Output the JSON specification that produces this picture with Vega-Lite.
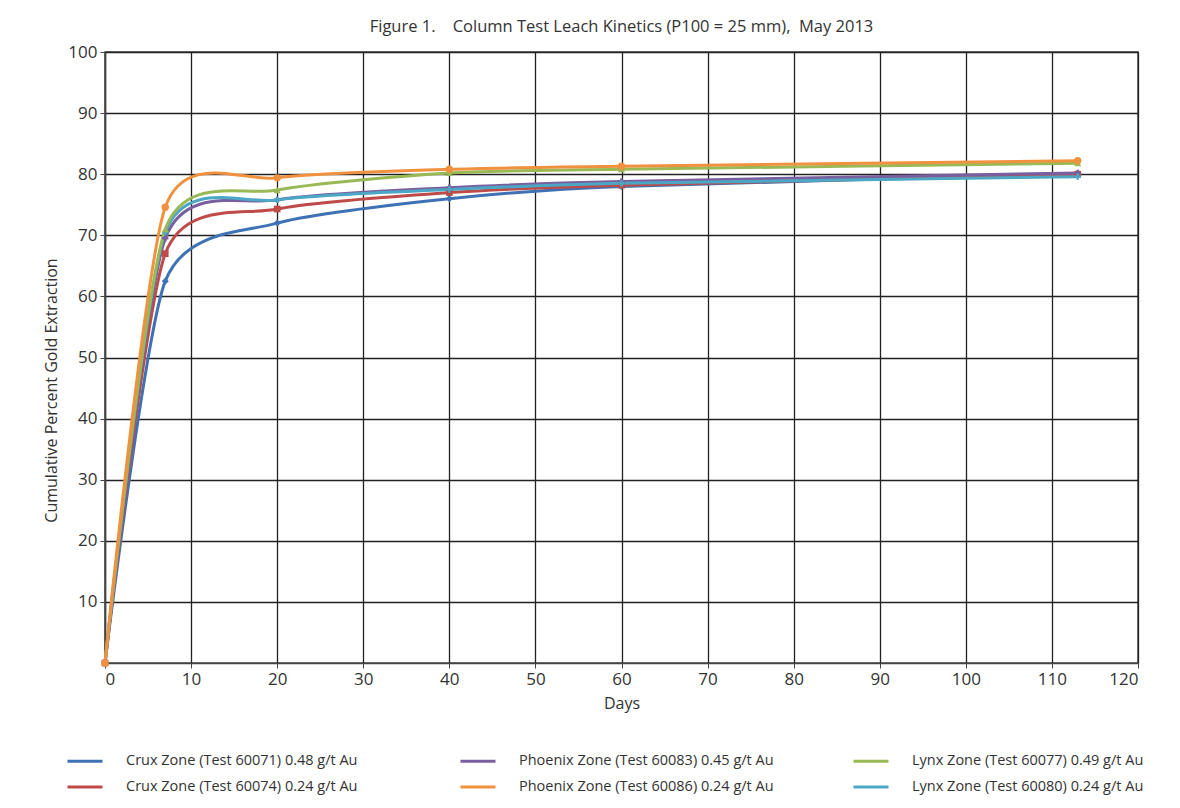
{
  "$schema": "https://vega.github.io/schema/vega-lite/v6.json",
  "autosize": "none",
  "width": 1033,
  "height": 611,
  "padding": {"left": 105, "top": 52, "right": 42, "bottom": 145},
  "background": "white",
  "title": {
    "text": "Figure 1.\u00a0\u00a0\u00a0\u00a0Column Test Leach Kinetics (P100 = 25 mm),\u00a0\u00a0May 2013",
    "anchor": "middle",
    "font": "Open Sans",
    "fontSize": 16.5,
    "fontWeight": "normal",
    "color": "#333333",
    "offset": 8
  },
  "config": {
    "view": {"stroke": "#444444", "strokeWidth": 1.5},
    "axis": {
      "labelFont": "Open Sans",
      "titleFont": "Open Sans",
      "labelFontSize": 17,
      "titleFontSize": 16,
      "titleFontWeight": "normal",
      "labelColor": "#333333",
      "titleColor": "#333333",
      "gridColor": "#222222",
      "gridWidth": 1.3,
      "gridOpacity": 1,
      "domainColor": "#444444",
      "domainWidth": 1.5,
      "tickColor": "#444444",
      "tickSize": 5
    },
    "legend": {
      "labelFont": "Open Sans",
      "labelFontSize": 14.5,
      "labelColor": "#333333",
      "labelLimit": 400
    }
  },
  "data": {
    "values": [
      {"series": "Crux Zone (Test 60071) 0.48 g/t Au", "day": 0, "pct": 0},
      {"series": "Crux Zone (Test 60071) 0.48 g/t Au", "day": 7, "pct": 62.5},
      {"series": "Crux Zone (Test 60071) 0.48 g/t Au", "day": 20, "pct": 72},
      {"series": "Crux Zone (Test 60071) 0.48 g/t Au", "day": 40, "pct": 76},
      {"series": "Crux Zone (Test 60071) 0.48 g/t Au", "day": 60, "pct": 78},
      {"series": "Crux Zone (Test 60071) 0.48 g/t Au", "day": 113, "pct": 80},
      {"series": "Crux Zone (Test 60074) 0.24 g/t Au", "day": 0, "pct": 0},
      {"series": "Crux Zone (Test 60074) 0.24 g/t Au", "day": 7, "pct": 67},
      {"series": "Crux Zone (Test 60074) 0.24 g/t Au", "day": 20, "pct": 74.3},
      {"series": "Crux Zone (Test 60074) 0.24 g/t Au", "day": 40, "pct": 77},
      {"series": "Crux Zone (Test 60074) 0.24 g/t Au", "day": 60, "pct": 78.2},
      {"series": "Crux Zone (Test 60074) 0.24 g/t Au", "day": 113, "pct": 80},
      {"series": "Phoenix Zone (Test 60083) 0.45 g/t Au", "day": 0, "pct": 0},
      {"series": "Phoenix Zone (Test 60083) 0.45 g/t Au", "day": 7, "pct": 69.5},
      {"series": "Phoenix Zone (Test 60083) 0.45 g/t Au", "day": 20, "pct": 75.8},
      {"series": "Phoenix Zone (Test 60083) 0.45 g/t Au", "day": 40, "pct": 77.8},
      {"series": "Phoenix Zone (Test 60083) 0.45 g/t Au", "day": 60, "pct": 78.8},
      {"series": "Phoenix Zone (Test 60083) 0.45 g/t Au", "day": 113, "pct": 80.2},
      {"series": "Lynx Zone (Test 60080) 0.24 g/t Au", "day": 0, "pct": 0},
      {"series": "Lynx Zone (Test 60080) 0.24 g/t Au", "day": 7, "pct": 70.5},
      {"series": "Lynx Zone (Test 60080) 0.24 g/t Au", "day": 20, "pct": 75.8},
      {"series": "Lynx Zone (Test 60080) 0.24 g/t Au", "day": 40, "pct": 77.5},
      {"series": "Lynx Zone (Test 60080) 0.24 g/t Au", "day": 60, "pct": 78.5},
      {"series": "Lynx Zone (Test 60080) 0.24 g/t Au", "day": 113, "pct": 79.6},
      {"series": "Lynx Zone (Test 60077) 0.49 g/t Au", "day": 0, "pct": 0},
      {"series": "Lynx Zone (Test 60077) 0.49 g/t Au", "day": 7, "pct": 71},
      {"series": "Lynx Zone (Test 60077) 0.49 g/t Au", "day": 20, "pct": 77.4},
      {"series": "Lynx Zone (Test 60077) 0.49 g/t Au", "day": 40, "pct": 80.2},
      {"series": "Lynx Zone (Test 60077) 0.49 g/t Au", "day": 60, "pct": 80.8},
      {"series": "Lynx Zone (Test 60077) 0.49 g/t Au", "day": 113, "pct": 81.8},
      {"series": "Phoenix Zone (Test 60086) 0.24 g/t Au", "day": 0, "pct": 0},
      {"series": "Phoenix Zone (Test 60086) 0.24 g/t Au", "day": 7, "pct": 74.6},
      {"series": "Phoenix Zone (Test 60086) 0.24 g/t Au", "day": 20, "pct": 79.4},
      {"series": "Phoenix Zone (Test 60086) 0.24 g/t Au", "day": 40, "pct": 80.8},
      {"series": "Phoenix Zone (Test 60086) 0.24 g/t Au", "day": 60, "pct": 81.3},
      {"series": "Phoenix Zone (Test 60086) 0.24 g/t Au", "day": 113, "pct": 82.2}
    ]
  },
  "encoding": {
    "x": {
      "field": "day",
      "type": "quantitative",
      "scale": {"domain": [0, 120], "nice": false},
      "axis": {"values": [0, 10, 20, 30, 40, 50, 60, 70, 80, 90, 100, 110, 120], "title": "Days", "titlePadding": 8, "labelPadding": 3}
    },
    "y": {
      "field": "pct",
      "type": "quantitative",
      "scale": {"domain": [0, 100], "nice": false},
      "axis": {"values": [10, 20, 30, 40, 50, 60, 70, 80, 90, 100], "title": "Cumulative Percent Gold Extraction", "titlePadding": 8, "labelPadding": 3, "titleY": 338}
    }
  },
  "layer": [
    {
      "mark": {"type": "line", "interpolate": "cardinal", "tension": 0.3, "strokeWidth": 3},
      "encoding": {
        "color": {
          "field": "series",
          "type": "nominal",
          "scale": {
            "domain": [
              "Crux Zone (Test 60071) 0.48 g/t Au",
              "Phoenix Zone (Test 60083) 0.45 g/t Au",
              "Lynx Zone (Test 60077) 0.49 g/t Au",
              "Crux Zone (Test 60074) 0.24 g/t Au",
              "Phoenix Zone (Test 60086) 0.24 g/t Au",
              "Lynx Zone (Test 60080) 0.24 g/t Au"
            ],
            "range": ["#3f72b5", "#7a5fa0", "#98b954", "#be4b48", "#f0913f", "#4ba7c4"]
          },
          "legend": {
            "title": null,
            "orient": "none",
            "legendX": -39,
            "legendY": 690,
            "direction": "horizontal",
            "columns": 3,
            "columnPadding": 73,
            "rowPadding": -14,
            "symbolType": "stroke",
            "symbolSize": 1225,
            "symbolStrokeWidth": 3,
            "labelOffset": 22,
            "gridAlign": "all"
          }
        }
      }
    },
    {
      "transform": [{"filter": "datum.series == 'Crux Zone (Test 60071) 0.48 g/t Au'"}],
      "mark": {"type": "point", "shape": "diamond", "filled": true, "size": 50, "color": "#3f72b5", "opacity": 1}
    },
    {
      "transform": [{"filter": "datum.series == 'Crux Zone (Test 60074) 0.24 g/t Au'"}],
      "mark": {"type": "point", "shape": "square", "filled": true, "size": 45, "color": "#be4b48", "opacity": 1}
    },
    {
      "transform": [{"filter": "datum.series == 'Phoenix Zone (Test 60083) 0.45 g/t Au'"}],
      "mark": {"type": "point", "shape": "cross", "filled": true, "size": 40, "color": "#7a5fa0", "opacity": 1}
    },
    {
      "transform": [{"filter": "datum.series == 'Lynx Zone (Test 60080) 0.24 g/t Au'"}],
      "mark": {"type": "point", "shape": "cross", "filled": true, "size": 40, "color": "#4ba7c4", "opacity": 1}
    },
    {
      "transform": [{"filter": "datum.series == 'Lynx Zone (Test 60077) 0.49 g/t Au'"}],
      "mark": {"type": "point", "shape": "triangle-up", "filled": true, "size": 50, "color": "#98b954", "opacity": 1}
    },
    {
      "transform": [{"filter": "datum.series == 'Phoenix Zone (Test 60086) 0.24 g/t Au'"}],
      "mark": {"type": "point", "shape": "circle", "filled": true, "size": 55, "color": "#f0913f", "opacity": 1}
    }
  ]
}
